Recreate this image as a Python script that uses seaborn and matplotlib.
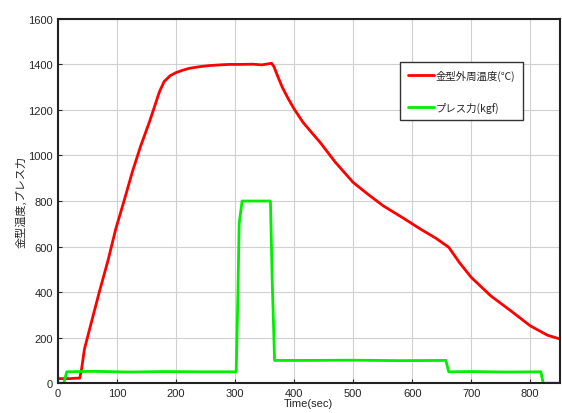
import numpy as np
import pandas as pd
import matplotlib.pyplot as plt
import seaborn as sns

# 金型外周温度 (℃)
t_temp = [0, 10, 20, 30, 37, 40, 45, 55, 70, 85, 98, 112, 126, 140, 155, 165, 172, 180, 190, 200,
          212, 223, 240, 257, 275, 290, 310, 330, 345, 355, 362, 366, 372, 380, 390, 400, 415, 430, 444,
          470, 500, 525, 551, 585, 614, 640, 662, 680, 700, 733, 767, 800, 829, 848, 850]
temp = [20, 20, 20, 22, 22, 60, 150, 250, 399, 540, 677, 800, 927, 1040, 1147, 1225, 1280, 1325, 1350, 1364,
        1375, 1383, 1390, 1395, 1398, 1400, 1400, 1401, 1398, 1402, 1405, 1390, 1350, 1300, 1250, 1205, 1146, 1100, 1058,
        970, 882, 830, 779, 725, 677, 637, 597, 530, 465, 384, 318, 252, 211, 196, 195]

# プレス力 (kgf)
t_press = [0, 10, 15, 60, 120, 180, 240, 302, 305, 307, 312, 335, 360, 363, 367, 420, 500, 580, 657,
           662, 700, 760, 818, 822, 850]
press = [0, 0, 50, 52, 49, 51, 50, 50, 400, 700, 800, 800, 800, 450, 100, 100, 101, 99, 100,
         50, 51, 49, 50, 0, 0]

sns.set_style("whitegrid")
plt.rcParams["font.family"] = ["Liberation Sans", "Noto Sans CJK JP", "DejaVu Sans"]
jp = ["Noto Sans CJK JP", "DejaVu Sans"]

fig = plt.figure(figsize=(5.62, 4.14), dpi=100)
ax = fig.add_axes([0.103, 0.072, 0.893, 0.880])

sns.lineplot(x=t_temp, y=temp, color="#ff0000", lw=2, label="金型外周温度(℃)", ax=ax)
sns.lineplot(x=t_press, y=press, color="#00ee00", lw=2, label="プレス力(kgf)", ax=ax)

ax.set_xlim(0, 850)
ax.set_ylim(0, 1600)
ax.set_xticks(np.arange(0, 900, 100))
ax.set_yticks(np.arange(0, 1800, 200))
ax.grid(True, color="#d0d0d0", lw=0.8)
ax.tick_params(labelsize=8, direction="in", length=3, bottom=True, left=True)
for s in ax.spines.values():
    s.set_color("#222222")
    s.set_linewidth(1.5)

ax.set_xlabel("Time(sec)", fontsize=8, labelpad=0)
ax.set_ylabel("金型温度,プレス力", fontsize=8, family=jp)
ax.yaxis.set_label_coords(-0.062, 0.5)

leg = ax.legend(loc="upper left", bbox_to_anchor=(0.672, 0.895), fontsize=7.5, frameon=True,
                fancybox=False, edgecolor="#333333", framealpha=1, labelspacing=2.0,
                handlelength=2.5, handletextpad=0.2, borderpad=0.7, prop={"family": jp, "size": 7.5})
leg.get_frame().set_linewidth(1.0)

fig.savefig("out.png", dpi=100)
